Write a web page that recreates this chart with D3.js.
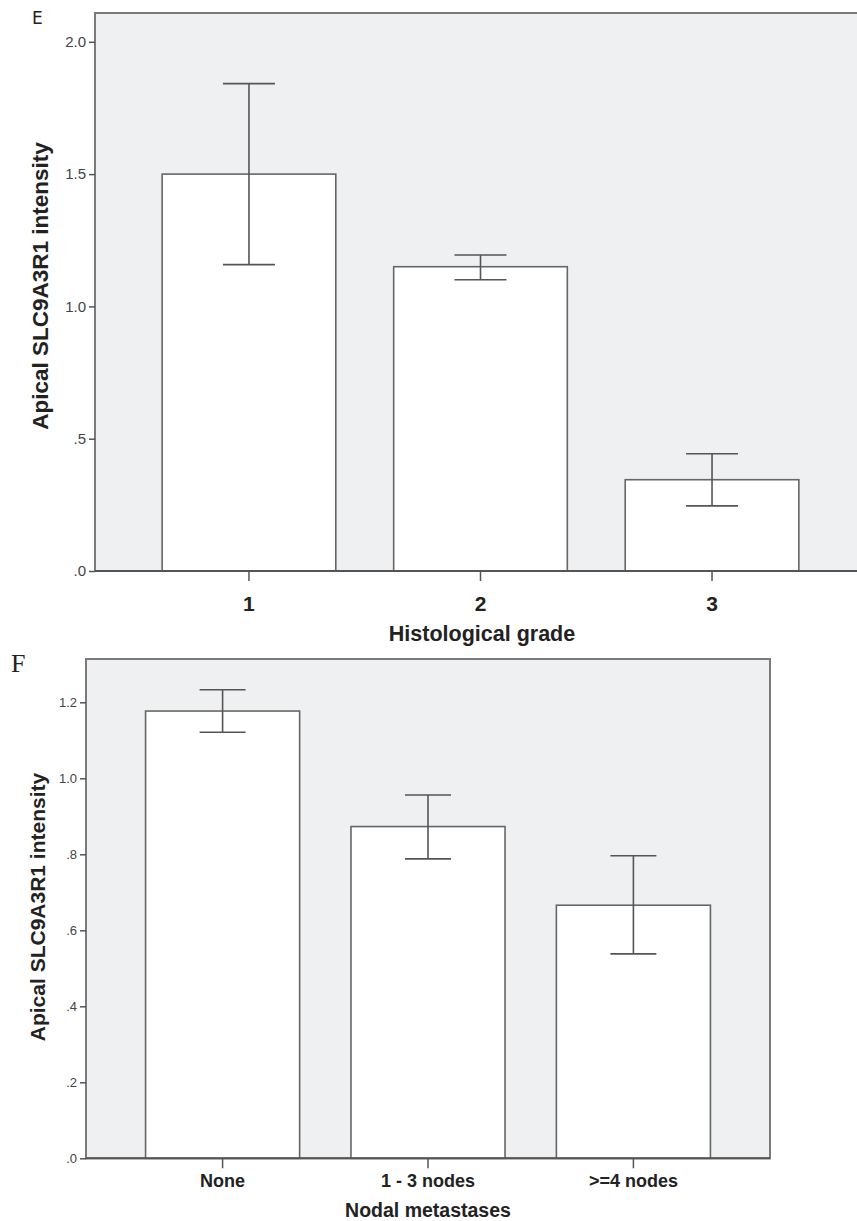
<!DOCTYPE html>
<html>
<head>
<meta charset="utf-8">
<script src="https://cdn.jsdelivr.net/npm/d3@7"></script>
<style>
  body { margin: 0; background: #fff; }
  svg { display: block; font-family: "Liberation Sans", Arial, sans-serif; }
</style>
</head>
<body>
<svg id="chart" width="857" height="1221"></svg>
<script>
// panel E: histological grade
const gradeCats = ["1", "2", "3"];
const gradeMeans = [1.50, 1.15, 0.345];
const gradeLow = [1.158, 1.101, 0.246];
const gradeHigh = [1.842, 1.194, 0.443];
const gradeTicks = [0, 0.5, 1.0, 1.5, 2.0];

// panel F: nodal metastases
const nodeCats = ["None", "1 - 3 nodes", ">=4 nodes"];
const nodeMeans = [1.177, 0.873, 0.666];
const nodeLow = [1.121, 0.788, 0.538];
const nodeHigh = [1.233, 0.956, 0.796];
const nodeTicks = [0, 0.2, 0.4, 0.6, 0.8, 1.0, 1.2];

const yTitle = "Apical SLC9A3R1 intensity";

const svg = d3.select("#chart");
const fmt = v => d3.format(".1f")(v).replace(/^0\./, ".");

function panel(cfg) {
  const g = svg.append("g");
  const x = d3.scaleBand().domain(cfg.cats).range([cfg.left, cfg.right])
    .paddingInner(0.25).paddingOuter(0.29);
  const y = d3.scaleLinear().domain([0, cfg.ymax]).range([cfg.bottom, cfg.y1]);

  // plot background
  g.append("rect")
    .attr("x", cfg.left).attr("y", cfg.top)
    .attr("width", cfg.right - cfg.left).attr("height", cfg.bottom - cfg.top)
    .attr("fill", "#eff0f2").attr("stroke", "#7a7a7a").attr("stroke-width", 2);

  const rows = cfg.cats.map((c, i) => ({c, m: cfg.means[i], lo: cfg.low[i], hi: cfg.high[i]}));

  g.selectAll(".bar").data(rows).enter().append("rect")
    .attr("class", "bar")
    .attr("x", d => x(d.c)).attr("width", x.bandwidth())
    .attr("y", d => y(d.m)).attr("height", d => y(0) - y(d.m))
    .attr("fill", "#fff").attr("stroke", "#666").attr("stroke-width", 1.6);

  const eb = g.selectAll(".err").data(rows).enter().append("g")
    .attr("class", "err").attr("stroke", "#555").attr("stroke-width", 1.6);
  const cx = d => x(d.c) + x.bandwidth() / 2;
  eb.append("line").attr("x1", cx).attr("x2", cx)
    .attr("y1", d => y(d.lo)).attr("y2", d => y(d.hi));
  eb.append("line").attr("x1", d => cx(d) - cfg.cap).attr("x2", d => cx(d) + cfg.cap)
    .attr("y1", d => y(d.hi)).attr("y2", d => y(d.hi));
  eb.append("line").attr("x1", d => cx(d) - cfg.cap).attr("x2", d => cx(d) + cfg.cap)
    .attr("y1", d => y(d.lo)).attr("y2", d => y(d.lo));

  // y axis
  const ya = g.append("g").attr("transform", `translate(${cfg.left},0)`)
    .call(d3.axisLeft(y).tickValues(cfg.ticks).tickFormat(fmt).tickSize(6).tickPadding(3));
  ya.select(".domain").remove();
  ya.selectAll("line").attr("stroke", "#555").attr("stroke-width", 1.5);
  ya.selectAll("text").attr("fill", "#444").style("font-size", cfg.tickFont + "px");

  // x axis
  const xa = g.append("g").attr("transform", `translate(0,${cfg.bottom})`)
    .call(d3.axisBottom(x).tickSize(10).tickPadding(cfg.xPad));
  xa.select(".domain").remove();
  xa.selectAll("line").attr("stroke", "#555").attr("stroke-width", 1.5);
  xa.selectAll("text").attr("fill", "#222").style("font-size", cfg.catFont + "px")
    .style("font-weight", "bold");

  // redraw baseline on top
  g.append("line").attr("x1", cfg.left).attr("x2", cfg.right)
    .attr("y1", cfg.bottom).attr("y2", cfg.bottom)
    .attr("stroke", "#555").attr("stroke-width", 2);

  g.append("text")
    .attr("x", cfg.xTitleX).attr("y", cfg.xTitleY)
    .attr("text-anchor", "middle").attr("fill", "#222")
    .style("font-size", cfg.xTitleFont + "px").style("font-weight", "bold")
    .text(cfg.xTitle);

  g.append("text")
    .attr("transform", `translate(${cfg.yTitleX},${cfg.yTitleY}) rotate(-90)`)
    .attr("text-anchor", "middle").attr("fill", "#222")
    .style("font-size", cfg.yTitleFont + "px").style("font-weight", "bold")
    .text(yTitle);
}

panel({
  cats: gradeCats, means: gradeMeans, low: gradeLow, high: gradeHigh, ticks: gradeTicks,
  left: 95, right: 866, top: 13, bottom: 571, ymax: 2.0, y1: 41.8,
  cap: 26, tickFont: 15, catFont: 21, xPad: 15, xTitleFont: 21.5, yTitleFont: 22.5,
  xTitle: "Histological grade", xTitleX: 482, xTitleY: 641,
  yTitleX: 48, yTitleY: 286
});

panel({
  cats: nodeCats, means: nodeMeans, low: nodeLow, high: nodeHigh, ticks: nodeTicks,
  left: 86, right: 770, top: 659, bottom: 1158.3, ymax: 1.2, y1: 702.3,
  cap: 23, tickFont: 13, catFont: 18, xPad: 6, xTitleFont: 19.5, yTitleFont: 21,
  xTitle: "Nodal metastases", xTitleX: 428, xTitleY: 1217,
  yTitleX: 45, yTitleY: 907
});

// panel letters
svg.append("text").attr("x", 32).attr("y", 24)
  .style("font-family", "'DejaVu Sans', sans-serif").style("font-size", "17px")
  .attr("fill", "#222").text("E");
svg.append("text").attr("x", 11).attr("y", 672)
  .style("font-family", "'Liberation Serif', serif").style("font-size", "26px")
  .attr("fill", "#222").text("F");
</script>
</body>
</html>
